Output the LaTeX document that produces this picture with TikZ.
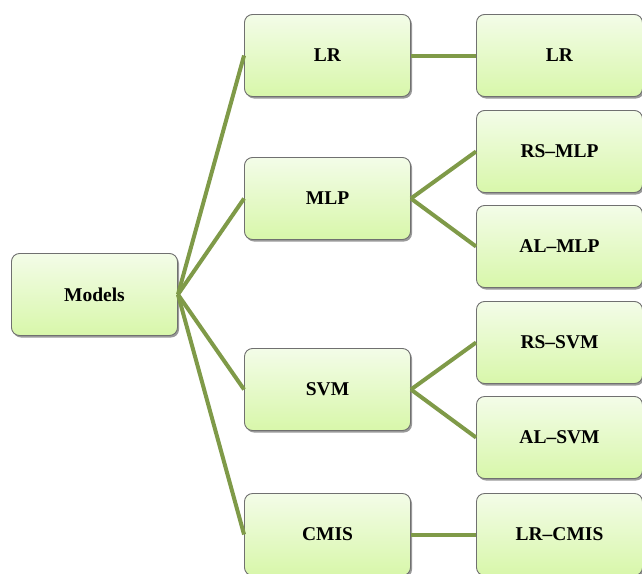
\documentclass[tikz,border=0pt]{standalone}
\usepackage{fontspec}
\setmainfont{Liberation Serif}
\usetikzlibrary{shadows}
\definecolor{lineg}{HTML}{7F9A48}
\definecolor{boxtop}{HTML}{F3FCE8}
\definecolor{boxbot}{HTML}{D8F7AA}
\definecolor{boxdraw}{HTML}{707070}
\begin{document}
\begin{tikzpicture}[x=1pt,y=-1pt,
  box/.style={draw=boxdraw, line width=0.9pt, rounded corners=8pt,
    top color=boxtop, bottom color=boxbot,
    minimum width=166pt, minimum height=82pt, inner sep=0pt,
    font=\fontsize{19.5}{23}\selectfont\bfseries,
    drop shadow={shadow xshift=1.5pt, shadow yshift=-2pt, opacity=0.4, fill=black}},
  conn/.style={draw=lineg, line width=4pt}]
\useasboundingbox (0,0) rectangle (642,573);
\node[box] (models) at (94.5,294.5) {Models};
\node[box] (lr) at (327.5,55.5) {LR};
\node[box] (mlp) at (327.5,198.5) {MLP};
\node[box] (svm) at (327.5,389.5) {SVM};
\node[box] (cmis) at (327.5,534.5) {CMIS};
\node[box] (lr2) at (559.5,55.5) {LR};
\node[box] (rsmlp) at (559.5,151.5) {RS–MLP};
\node[box] (almlp) at (559.5,246.5) {AL–MLP};
\node[box] (rssvm) at (559.5,342.5) {RS–SVM};
\node[box] (alsvm) at (559.5,437.5) {AL–SVM};
\node[box] (lrcmis) at (559.5,534.5) {LR–CMIS};
\foreach \t in {lr,mlp,svm,cmis} \draw[conn] (models.east) -- (\t.west);
\draw[conn] (lr.east) -- (lr2.west);
\draw[conn] (mlp.east) -- (rsmlp.west);
\draw[conn] (mlp.east) -- (almlp.west);
\draw[conn] (svm.east) -- (rssvm.west);
\draw[conn] (svm.east) -- (alsvm.west);
\draw[conn] (cmis.east) -- (lrcmis.west);
\end{tikzpicture}
\end{document}
